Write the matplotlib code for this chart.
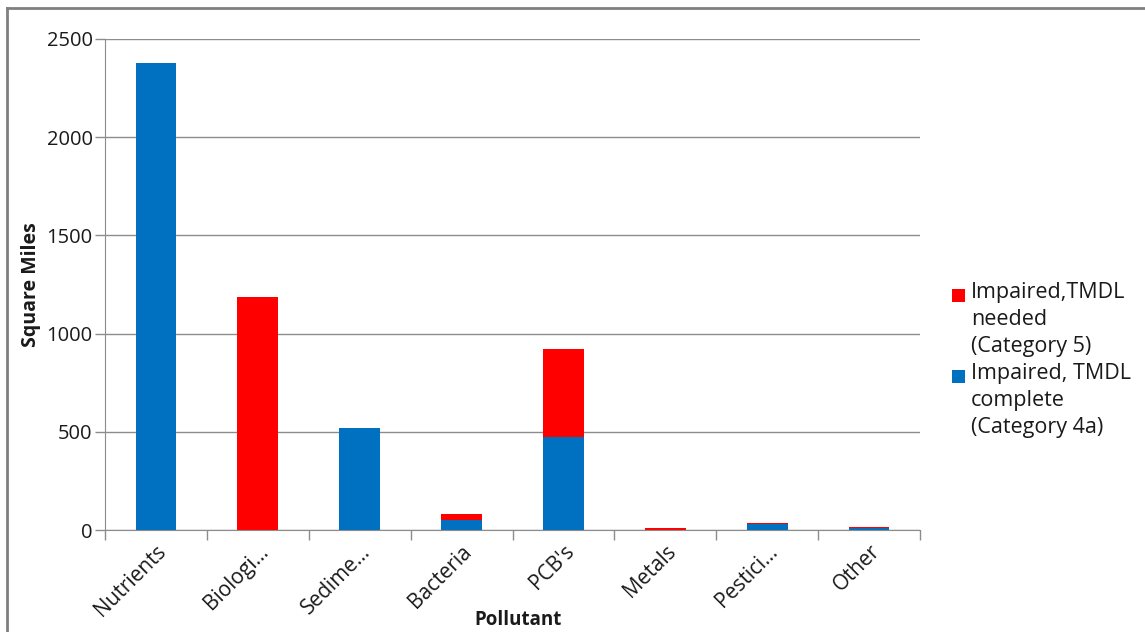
import matplotlib
matplotlib.use("Agg")
import matplotlib.pyplot as plt
from matplotlib.lines import Line2D
from matplotlib.patches import Rectangle
import numpy as np

plt.rcParams['font.family'] = ['Open Sans', 'DejaVu Sans']

categories = ["Nutrients", "Biologi...", "Sedime...", "Bacteria", "PCB's",
              "Metals", "Pestici...", "Other"]
complete_4a = [2380, 0, 520, 50, 473, 0, 32, 9]
needed_5 = [0, 1186, 0, 30, 449, 12, 5, 4]

series_labels = ["Impaired,TMDL\nneeded\n(Category 5)",
                 "Impaired, TMDL\ncomplete\n(Category 4a)"]
yticks = [0, 500, 1000, 1500, 2000, 2500]

blue = "#0070C0"
red = "#FF0000"
grid_c = "#8C8C8C"
text_c = "#1A1A1A"

W, H = 1145, 632
fig = plt.figure(figsize=(W / 100, H / 100), dpi=100)
ax = fig.add_axes([105 / W, 1 - 530 / H, 815 / W, 491 / H])

x = np.arange(len(categories))
ax.bar(x, complete_4a, width=0.4, color=blue, zorder=3)
ax.bar(x, needed_5, width=0.4, bottom=complete_4a, color=red, zorder=3)

ax.set_xlim(-0.5, len(categories) - 0.5)
ax.set_ylim(0, 2500)
ax.set_yticks(yticks)
ax.set_yticklabels([str(v) for v in yticks], fontsize=14.5, color=text_c)
ax.yaxis.grid(True, color=grid_c, linewidth=1, zorder=0)

ax.set_xticks(x)
ax.set_xticklabels(categories, rotation=45, ha='right', rotation_mode='anchor',
                   fontsize=15, color=text_c)
ax.tick_params(axis='x', length=0, pad=8)
# category boundary ticks
ax.set_xticks(np.arange(-0.5, len(categories)), minor=True)
ax.tick_params(axis='x', which='minor', length=7, color=grid_c, width=1)
ax.tick_params(axis='y', length=7, color=grid_c, width=1, pad=2)

for side in ['top', 'right']:
    ax.spines[side].set_visible(False)
ax.spines['left'].set_color(grid_c)
ax.spines['bottom'].set_color(grid_c)
ax.spines['left'].set_zorder(4)
ax.spines['bottom'].set_zorder(4)

ax.set_ylabel("Square Miles", fontsize=14, fontweight='bold', color=text_c)
ax.yaxis.set_label_coords(-0.078, 0.5)
ax.set_xlabel("Pollutant", fontsize=13.5, fontweight='bold', color=text_c)
ax.xaxis.set_label_coords(0.507, -0.163)

# legend: square marker beside the first line of each wrapped label
legend_tops = [282, 363]
for lbl, col, top in zip(series_labels, [red, blue], legend_tops):
    fig.add_artist(Rectangle((952 / W, 1 - (top + 20) / H), 13 / W, 13 / H,
                             facecolor=col, edgecolor='none',
                             transform=fig.transFigure))
    fig.text(971 / W, 1 - top / H, lbl, fontsize=15.5, color=text_c,
             va='top', ha='left', linespacing=1.38)

# outer frame on top and left edges
fig.add_artist(Line2D([7 / W, 1], [1 - 7.5 / H, 1 - 7.5 / H],
                      color="#808080", linewidth=2, transform=fig.transFigure))
fig.add_artist(Line2D([7 / W, 7 / W], [0, 1 - 7.5 / H],
                      color="#808080", linewidth=2, transform=fig.transFigure))

fig.savefig("out.png", dpi=100, facecolor="white")
